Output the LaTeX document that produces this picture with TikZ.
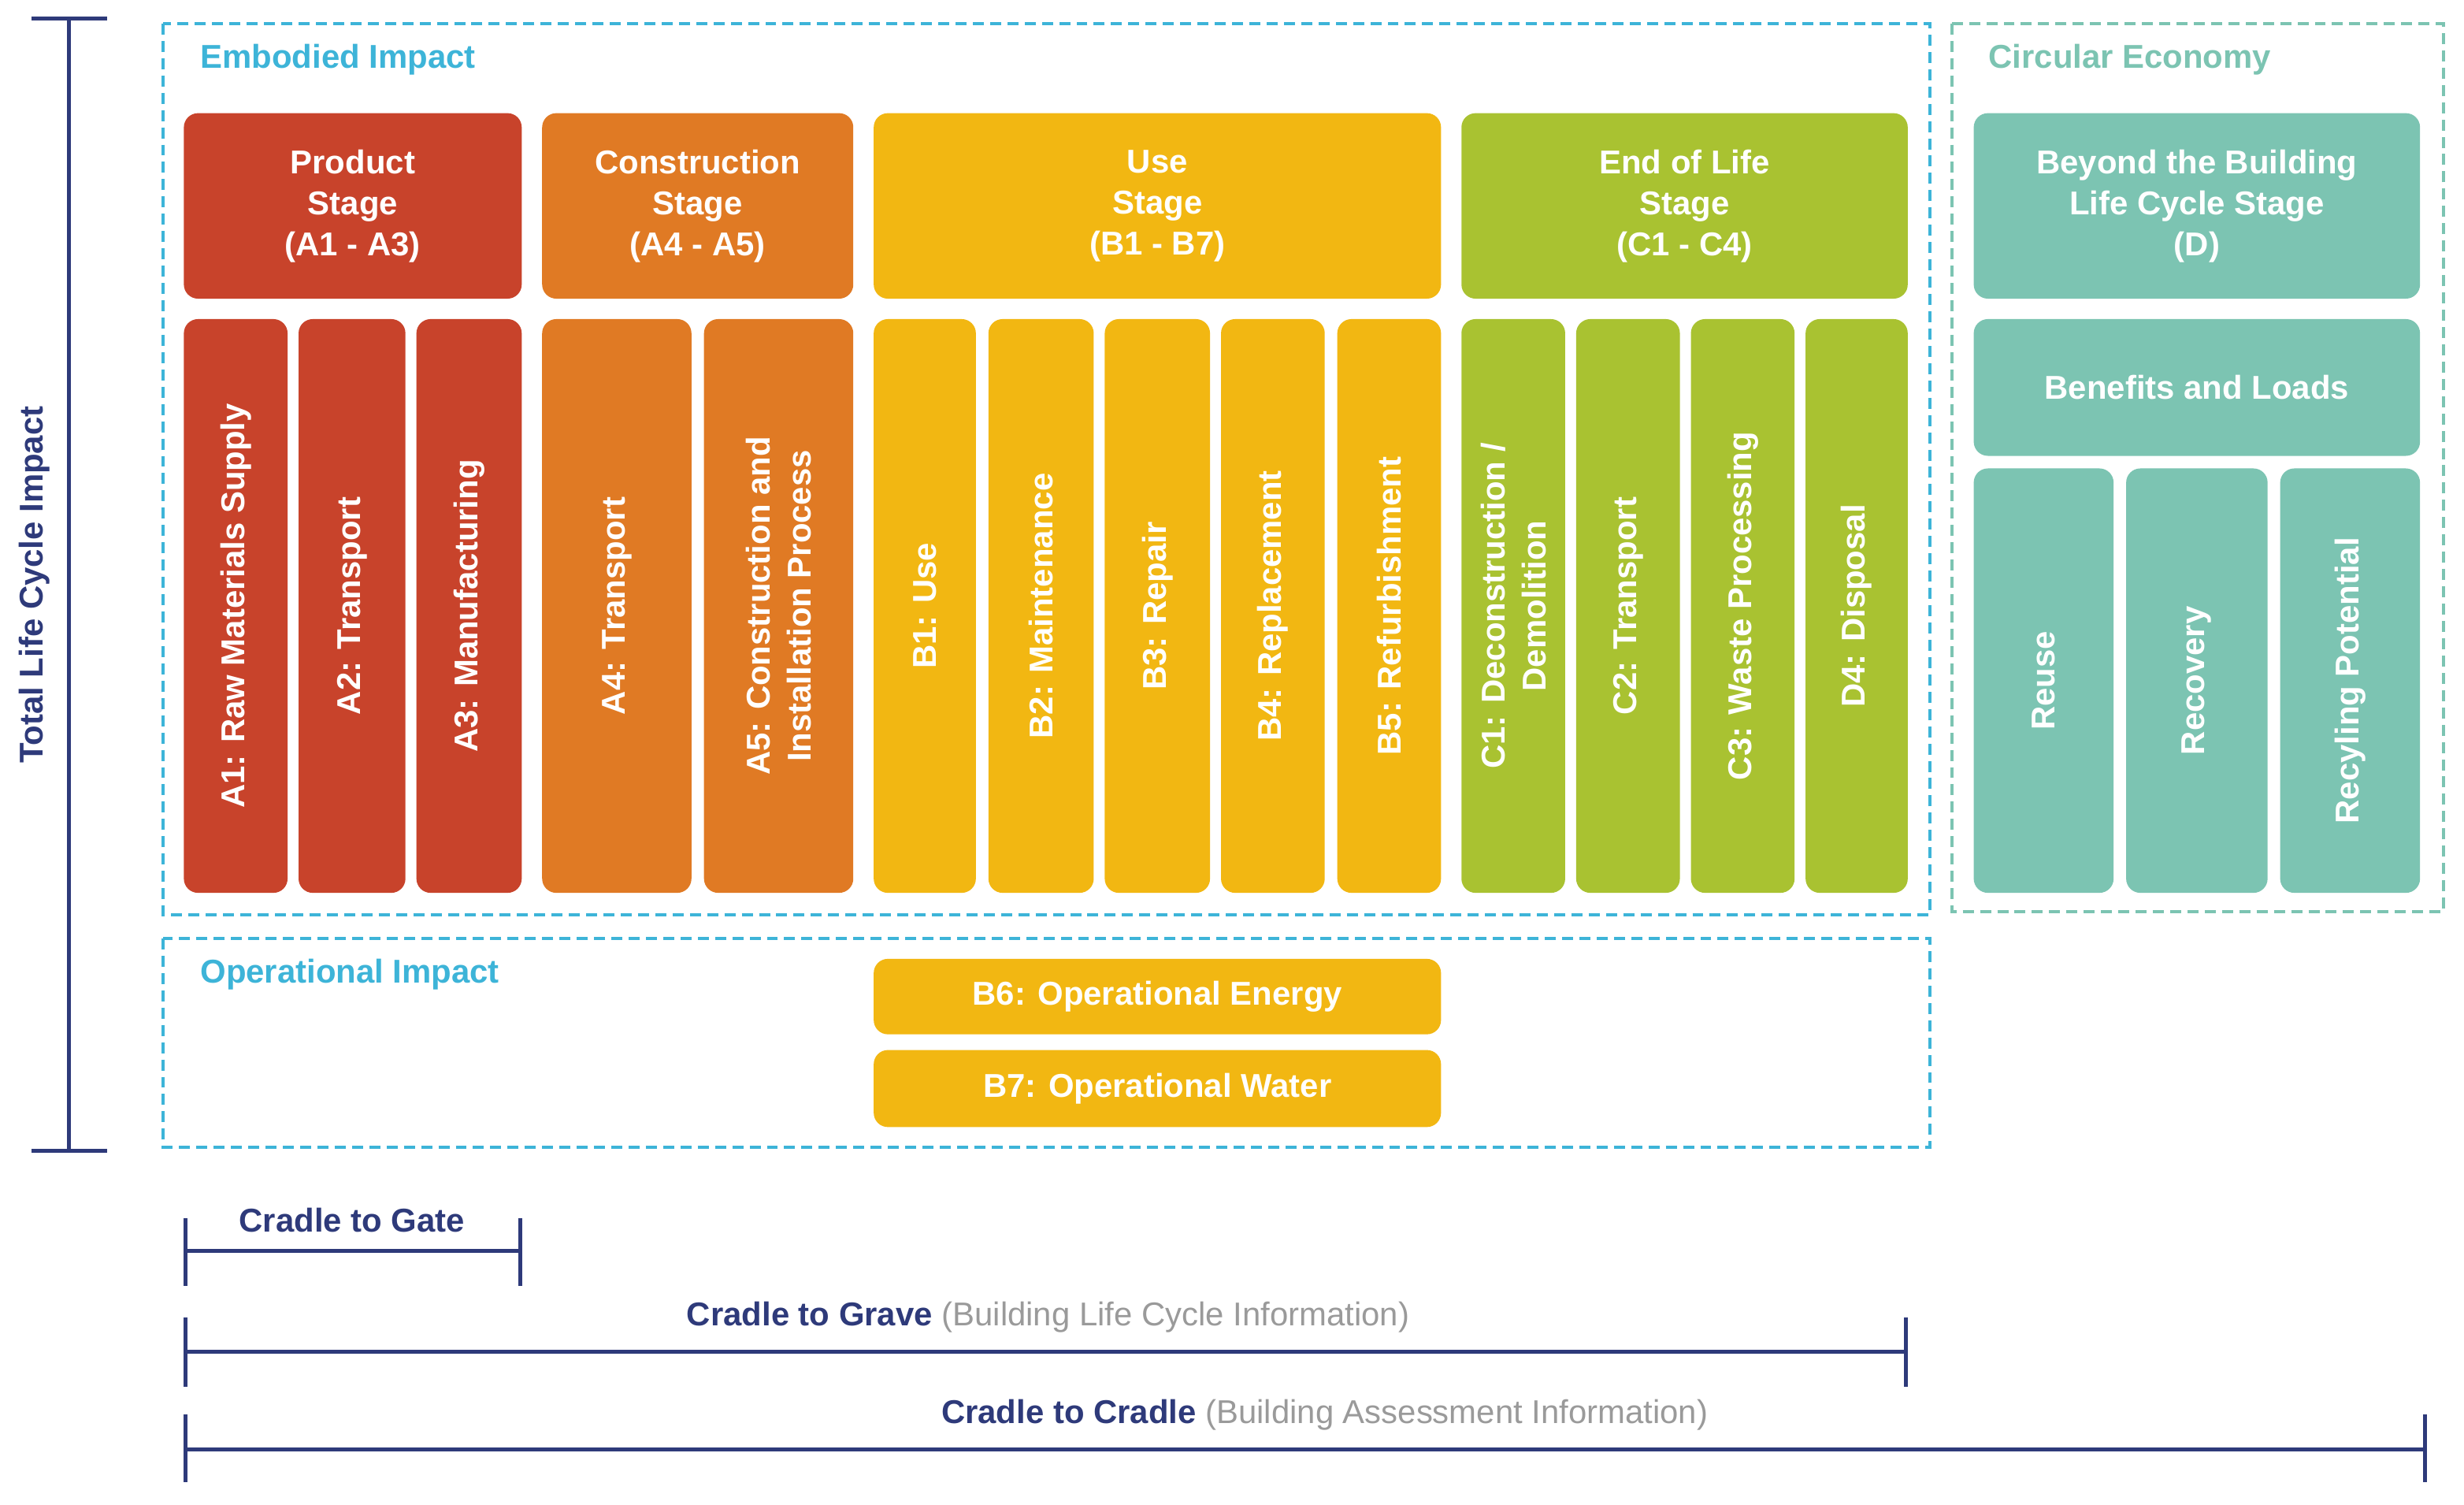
\documentclass[tikz,border=0pt]{standalone}
\usepackage{fontspec}
\setmainfont{Liberation Sans}
\begin{document}
\begin{tikzpicture}[x=1pt,y=-1pt,
  lbl/.style={text=white,font=\bfseries\fontsize{21}{26}\selectfont,align=center},
  dsh/.style={dash pattern=on 7pt off 4pt,line width=2pt},
  hd/.style={font=\bfseries\fontsize{21}{26}\selectfont,anchor=west},
  nav/.style={draw=navy,line width=2.5pt},
  nt/.style={font=\bfseries\fontsize{21}{26}\selectfont,text=navy}]
\definecolor{cy}{HTML}{3DB4D8}\definecolor{tl}{HTML}{7CC4B2}
\definecolor{rd}{HTML}{C8432B}\definecolor{or}{HTML}{E07A24}
\definecolor{yl}{HTML}{F2B712}\definecolor{gr}{HTML}{A9C231}
\definecolor{navy}{HTML}{2E3A7A}\definecolor{gy}{HTML}{9A9A9A}
\useasboundingbox (0,0) rectangle (1568,957);
\fill[white] (0,0) rectangle (1568,957);
% dashed frames
\draw[dsh,cy] (104,15) rectangle (1228,582);
\draw[dsh,tl] (1242,15) rectangle (1555,580);
\draw[dsh,cy] (104,597) rectangle (1228,730);
\node[hd,text=cy] (emb) at (124,38) {Embodied Impact};
\node[hd,text=tl] (circ) at (1262,38) {Circular Economy};
\node[hd,text=cy] (oper) at (124,620) {Operational Impact};
\newcommand{\hbx}[6]{\fill[#5,rounded corners=9pt] (#1,#2) rectangle (#3,#4);
  \node[lbl] at ({(#1+#3)/2},{(#2+#4)/2}) {#6};}
\newcommand{\vbx}[4]{\fill[#3,rounded corners=9pt] (#1,203) rectangle (#2,568);
  \node[lbl,rotate=90] at ({(#1+#2)/2},385.5) {#4};}
\hbx{117}{72}{332}{190}{rd}{Product\\Stage\\(A1 - A3)}
\hbx{345}{72}{543}{190}{or}{Construction\\Stage\\(A4 - A5)}
\hbx{556}{72}{917}{190}{yl}{Use\\Stage\\(B1 - B7)}
\hbx{930}{72}{1214}{190}{gr}{End of Life\\Stage\\(C1 - C4)}
\hbx{1256}{72}{1540}{190}{tl}{Beyond the Building\\Life Cycle Stage\\(D)}
\hbx{1256}{203}{1540}{290}{tl}{Benefits and Loads}
\vbx{117}{183}{rd}{A1: Raw Materials Supply}
\vbx{190}{258}{rd}{A2: Transport}
\vbx{265}{332}{rd}{A3: Manufacturing}
\vbx{345}{440}{or}{A4: Transport}
\vbx{448}{543}{or}{A5: Construction and\\Installation Process}
\vbx{556}{621}{yl}{B1: Use}
\vbx{629}{696}{yl}{B2: Maintenance}
\vbx{703}{770}{yl}{B3: Repair}
\vbx{777}{843}{yl}{B4: Replacement}
\vbx{851}{917}{yl}{B5: Refurbishment}
\vbx{930}{996}{gr}{C1: Deconstruction /\\Demolition}
\vbx{1003}{1069}{gr}{C2: Transport}
\vbx{1076}{1142}{gr}{C3: Waste Processing}
\vbx{1149}{1214}{gr}{D4: Disposal}
\fill[tl,rounded corners=9pt] (1256,298) rectangle (1345,568);
\node[lbl,rotate=90] (reu) at (1300.5,433) {Reuse};
\fill[tl,rounded corners=9pt] (1353,298) rectangle (1443,568);
\node[lbl,rotate=90] (rec) at (1398,433) {Recovery};
\fill[tl,rounded corners=9pt] (1451,298) rectangle (1540,568);
\node[lbl,rotate=90] (rcy) at (1495.5,433) {Recyling Potential};
\hbx{556}{610}{917}{658}{yl}{B6: Operational Energy}
\hbx{556}{668}{917}{717}{yl}{B7: Operational Water}
% left bracket
\draw[nav] (20,12) -- (68,12) (20,732) -- (68,732) (44,12) -- (44,732);
\node[nt,rotate=90] (tot) at (22,372) {Total Life Cycle Impact};
% cradle brackets
\draw[nav] (118,775) -- (118,818) (331,775) -- (331,818) (118,796) -- (331,796);
\node[nt] (c2g) at (224,776) {Cradle to Gate};
\draw[nav] (118,838) -- (118,882) (1213,838) -- (1213,882) (118,860) -- (1213,860);
\node[nt] (c2gr) at (667,838) {Cradle to Grave \textmd{\textcolor{gy}{(Building Life Cycle Information)}}};
\draw[nav] (118,900) -- (118,943) (1543,900) -- (1543,943) (118,922) -- (1543,922);
\node[nt] (c2c) at (843,900) {Cradle to Cradle \textmd{\textcolor{gy}{(Building Assessment Information)}}};
\end{tikzpicture}
\end{document}
